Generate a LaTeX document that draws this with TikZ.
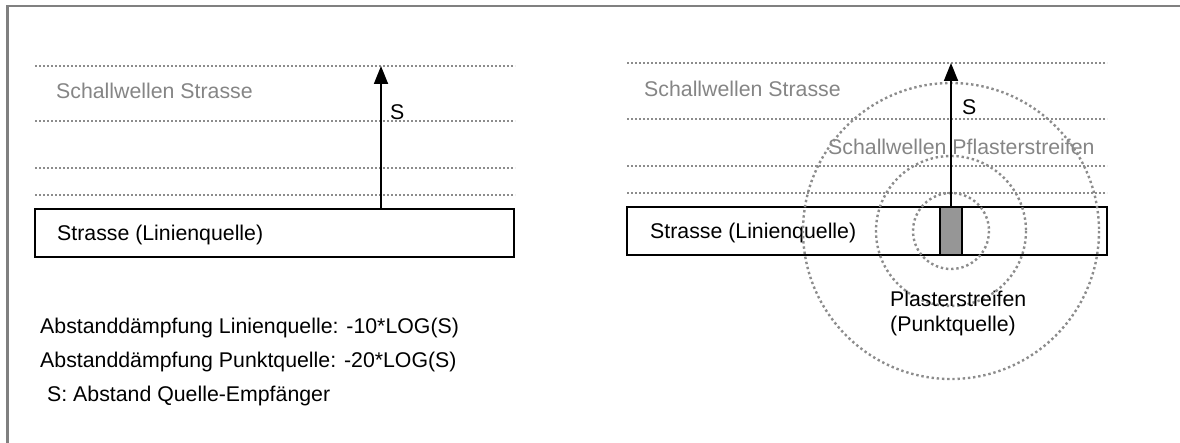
\documentclass[tikz,border=0pt]{standalone}
\usepackage{fontspec}
\setmainfont{Liberation Sans}
\usetikzlibrary{arrows.meta}
\definecolor{framegray}{HTML}{808080}
\definecolor{wavegray}{HTML}{8C8C8C}
\definecolor{textgray}{HTML}{858585}
\definecolor{blockgray}{HTML}{969696}
\begin{document}
\begin{tikzpicture}[x=1pt,y=-1pt,
  lbl/.style={inner sep=0pt, anchor=base west, font=\fontsize{21.3}{25}\selectfont},
  glbl/.style={lbl, text=textgray},
  wave/.style={draw=wavegray, line width=1.8pt, dash pattern=on 1.8pt off 2.2pt},
  ring/.style={draw=wavegray, line width=2.4pt, dash pattern=on 2.4pt off 2.8pt},
  road/.style={draw=black, fill=white, line width=1.8pt, inner sep=0pt},
  sarrow/.style={draw=black, line width=1.8pt, -{Triangle[width=14pt,length=18pt]}}]
\useasboundingbox (0,0) rectangle (1180,443);
% frame
\draw[framegray, line width=2.5pt] (7.5,443) -- (7.5,6) -- (1180,6);

% ---------- left panel ----------
\draw[wave] (35,66) -- (515,66);
\draw[wave] (35,121) -- (515,121);
\draw[wave] (35,168) -- (515,168);
\draw[wave] (35,195) -- (515,195);
\node[road, minimum width=479pt, minimum height=48pt] (roadL) at (274.5,233) {};
\node[lbl] (roadLtxt) at (57,240.6) {Strasse (Linienquelle)};
\node[glbl] (waveLtxt) at (56,98.5) {Schallwellen Strasse};
\coordinate (tipL) at (381,66);
\draw[sarrow] (tipL |- roadL.north) -- (tipL);
\node[lbl] (sL) at (390,120) {S};

% ---------- right panel ----------
\draw[wave] (627,63) -- (1107,63);
\draw[wave] (627,119) -- (1107,119);
\draw[wave] (627,166) -- (1107,166);
\draw[wave] (627,193) -- (1107,193);
\node[road, minimum width=480pt, minimum height=48pt] (roadR) at (867,231) {};
\node[road, fill=blockgray, minimum width=22pt, minimum height=48pt] (strip) at (951,231) {};
\node[lbl] (roadRtxt) at (650,238.6) {Strasse (Linienquelle)};
\node[glbl] (waveRtxt) at (644,96.5) {Schallwellen Strasse};
\node[glbl] (wavePtxt) at (828,155) {Schallwellen Pflasterstreifen};
\draw[ring] (strip.center) circle[radius=38];
\draw[ring] (strip.center) circle[radius=75];
\draw[ring] (strip.center) circle[radius=148];
\coordinate (tipR) at (951,63);
\draw[sarrow] (strip.north) -- (tipR);
\node[lbl] (sR) at (962,115) {S};
\node[lbl] (ps1) at (890,306.5) {Plasterstreifen};
\node[lbl] (ps2) at (890,331.5) {(Punktquelle)};

% ---------- formulas ----------
\node[lbl] (f1) at (40,333.6) {Abstanddämpfung Linienquelle: -10*LOG(S)};
\node[lbl] (f2) at (40,367.6) {Abstanddämpfung Punktquelle: -20*LOG(S)};
\node[lbl] (f3) at (47,401.6) {S: Abstand Quelle-Empfänger};
\end{tikzpicture}
\end{document}
